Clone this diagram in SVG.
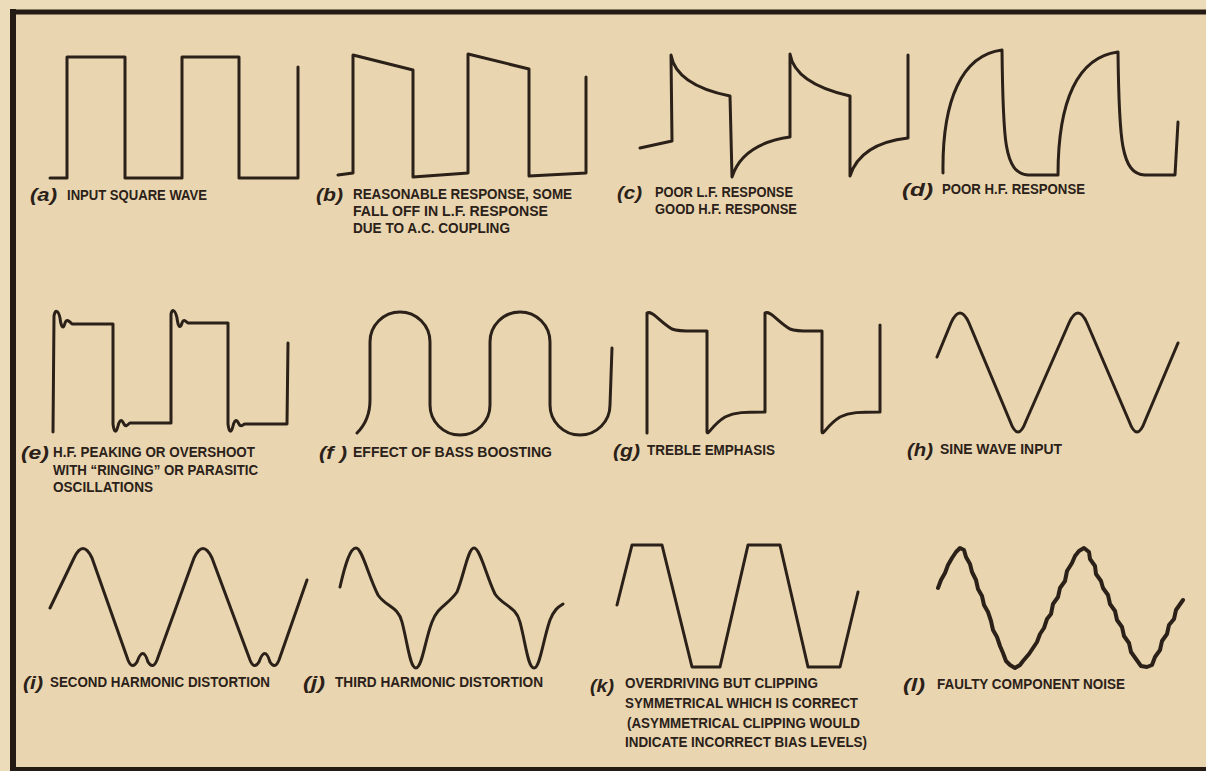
<svg xmlns="http://www.w3.org/2000/svg" width="1206" height="771" viewBox="0 0 1206 771">
<style>
.w{fill:none;stroke:#2b2119;stroke-width:3;stroke-linejoin:round;stroke-linecap:round}
.n{fill:none;stroke:#2b2119;stroke-width:4;stroke-linejoin:round;stroke-linecap:round}
.t{font-family:"Liberation Sans",Arial,sans-serif;font-weight:700;font-size:14.5px;fill:#2b2119}
.m{font-family:"Liberation Sans",Arial,sans-serif;font-weight:700;font-style:italic;font-size:19px;fill:#2b2119}
.b{stroke:#241b14;stroke-linecap:square}
</style>
<rect x="0" y="0" width="1206" height="771" fill="#eddcb9"/>
<rect x="13" y="13" width="1193" height="755" fill="#e9d6b0"/>
<g id="frame">
<line class="b" x1="13" y1="12" x2="1206" y2="12" stroke-width="5"/>
<line class="b" x1="13" y1="12" x2="13" y2="769" stroke-width="6"/>
<line class="b" x1="13" y1="769" x2="1206" y2="769" stroke-width="4"/>
</g>
<g id="panel-a">
<path class="w" d="M50,178 L67,178 L67,57 L125,57 L125,178 L182,178 L182,57 L239,57 L239,178 L298,178 L298,67"/>
<text class="m" x="30" y="201" textLength="27" lengthAdjust="spacingAndGlyphs">(a)</text>
<text class="t" x="67" y="200" textLength="140" lengthAdjust="spacingAndGlyphs">INPUT SQUARE WAVE</text>
</g>
<g id="panel-b">
<path class="w" d="M338,175 L353,173 L353,55 L413,70 L413,177 L468,173 L468,54 L529,69 L529,176 L586,173 L586,77"/>
<text class="m" x="316" y="201" textLength="27" lengthAdjust="spacingAndGlyphs">(b)</text>
<text class="t" x="353" y="199" textLength="219" lengthAdjust="spacingAndGlyphs">REASONABLE RESPONSE, SOME</text>
<text class="t" x="353" y="216" textLength="195" lengthAdjust="spacingAndGlyphs">FALL OFF IN L.F. RESPONSE</text>
<text class="t" x="353" y="233" textLength="157" lengthAdjust="spacingAndGlyphs">DUE TO A.C. COUPLING</text>
</g>
<g id="panel-c">
<path class="w" d="M640,148 L672,141 L671,55 C674,72 690,88 730,96 L732,177 C738,158 755,142 790,137 L790,54 C793,72 810,87 850,96 L850,176 C856,157 873,142 908,138 L908,55"/>
<text class="m" x="617" y="199" textLength="25" lengthAdjust="spacingAndGlyphs">(c)</text>
<text class="t" x="655" y="197" textLength="138" lengthAdjust="spacingAndGlyphs">POOR L.F. RESPONSE</text>
<text class="t" x="655" y="214" textLength="142" lengthAdjust="spacingAndGlyphs">GOOD H.F. RESPONSE</text>
</g>
<g id="panel-d">
<path class="w" d="M943,173 C942,100 962,55 1002,50 C1003,140 1004,173 1028,175 L1058,175 C1058,100 1078,57 1118,52 C1119,140 1121,174 1145,175 L1175,175 L1178,122"/>
<text class="m" x="902" y="196" textLength="31" lengthAdjust="spacingAndGlyphs">(d)</text>
<text class="t" x="942" y="194" textLength="143" lengthAdjust="spacingAndGlyphs">POOR H.F. RESPONSE</text>
</g>
<g id="panel-e">
<path class="w" d="M53,432 L54,316 C55,310 58,309 60,318 C61,326 63,331 65,323 C67,318 70,322 72,324 L113,324 L113,424 C114,432 116,434 118,426 C120,418 122,420 124,424 C126,428 128,424 130,423 L171,423 L171,314 C172,309 175,309 177,318 C178,326 180,330 182,323 C184,318 186,322 188,323 L228,323 L228,424 C229,432 231,434 233,426 C235,418 237,420 239,424 C241,428 243,424 245,424 L287,424 L288,343"/>
<text class="m" x="21" y="459" textLength="28" lengthAdjust="spacingAndGlyphs">(e)</text>
<text class="t" x="53" y="457" textLength="202" lengthAdjust="spacingAndGlyphs">H.F. PEAKING OR OVERSHOOT</text>
<text class="t" x="53" y="475" textLength="205" lengthAdjust="spacingAndGlyphs">WITH “RINGING” OR PARASITIC</text>
<text class="t" x="53" y="492" textLength="100" lengthAdjust="spacingAndGlyphs">OSCILLATIONS</text>
</g>
<g id="panel-f">
<path class="w" d="M357,433 C365,425 370,415 370,400 L370,342 A30,30 0 0 1 430,342 L430,405 A30,30 0 0 0 490,405 L490,342 A30,30 0 0 1 550,342 L550,405 A30,30 0 0 0 610,405 L612,348"/>
<text class="m" x="319" y="459" textLength="28" lengthAdjust="spacingAndGlyphs">(f )</text>
<text class="t" x="353" y="457" textLength="199" lengthAdjust="spacingAndGlyphs">EFFECT OF BASS BOOSTING</text>
</g>
<g id="panel-g">
<path class="w" d="M647,433 L647,313 C652,310 660,322 672,329 C680,332 690,331 707,331 L707,432 C708,436 712,425 725,417 C735,412 745,412 765,412 L765,313 C770,310 778,322 790,329 C798,332 808,331 822,331 L822,432 C823,436 827,425 840,417 C850,412 860,412 880,412 L880,325"/>
<text class="m" x="613" y="457" textLength="27" lengthAdjust="spacingAndGlyphs">(g)</text>
<text class="t" x="647" y="455" textLength="128" lengthAdjust="spacingAndGlyphs">TREBLE EMPHASIS</text>
</g>
<g id="panel-h">
<path class="w" d="M937,357 L951,323 Q960,303 969,323 L1010,421 Q1018,443 1026,421 L1069,323 Q1078,303 1087,323 L1129,421 Q1137,443 1145,421 L1178,343"/>
<text class="m" x="907" y="456" textLength="26" lengthAdjust="spacingAndGlyphs">(h)</text>
<text class="t" x="940" y="454" textLength="122" lengthAdjust="spacingAndGlyphs">SINE WAVE INPUT</text>
</g>
<g id="panel-i">
<path class="w" d="M50,608 L74,558 Q83,539 92,558 L128,660 Q132,670 137,662 Q143,645 148,662 Q153,670 157,660 L194,558 Q203,539 212,558 L250,660 Q254,670 259,662 Q265,645 270,662 Q275,670 279,660 L307,580"/>
<text class="m" x="23" y="689" textLength="20" lengthAdjust="spacingAndGlyphs">(i)</text>
<text class="t" x="50" y="687" textLength="220" lengthAdjust="spacingAndGlyphs">SECOND HARMONIC DISTORTION</text>
</g>
<g id="panel-j">
<path class="w" d="M340,587 C345,565 350,548 356,548 C362,548 368,575 378,595 C386,607 398,606 402,622 C408,645 410,668 416,668 C422,668 425,640 432,622 C438,606 448,605 457,592 C464,575 468,548 474,548 C480,548 486,575 495,594 C503,606 516,606 520,622 C526,645 528,668 534,668 C540,668 543,640 550,620 C554,610 558,607 563,604"/>
<text class="m" x="303" y="689" textLength="22" lengthAdjust="spacingAndGlyphs">(j)</text>
<text class="t" x="335" y="687" textLength="208" lengthAdjust="spacingAndGlyphs">THIRD HARMONIC DISTORTION</text>
</g>
<g id="panel-k">
<path class="w" d="M617,605 L632,545 L662,545 L692,667 L720,667 L748,545 L780,545 L808,667 L840,667 L858,592"/>
<text class="m" x="590" y="692" textLength="24" lengthAdjust="spacingAndGlyphs">(k)</text>
<text class="t" x="625" y="688" textLength="193" lengthAdjust="spacingAndGlyphs">OVERDRIVING BUT CLIPPING</text>
<text class="t" x="625" y="708" textLength="233" lengthAdjust="spacingAndGlyphs">SYMMETRICAL WHICH IS CORRECT</text>
<text class="t" x="627" y="728" textLength="233" lengthAdjust="spacingAndGlyphs">(ASYMMETRICAL CLIPPING WOULD</text>
<text class="t" x="625" y="747" textLength="242" lengthAdjust="spacingAndGlyphs">INDICATE INCORRECT BIAS LEVELS)</text>
</g>
<g id="panel-l">
<path class="n" d="M938,588 L941,580 L945,573 L948,565 L952,558 L956,552 L960,548 L964,550 L966,557 L970,564 L972,572 L976,580 L978,589 L982,596 L984,605 L988,612 L991,621 L993,630 L997,637 L1000,646 L1003,653 L1006,661 L1010,665 L1015,668 L1020,665 L1023,661 L1029,654 L1033,648 L1037,642 L1040,634 L1044,628 L1047,619 L1051,614 L1053,604 L1058,597 L1060,588 L1065,581 L1067,571 L1072,563 L1075,556 L1079,551 L1084,548 L1089,552 L1090,559 L1095,566 L1096,574 L1101,581 L1103,588 L1108,595 L1110,604 L1115,611 L1117,620 L1122,627 L1124,636 L1129,643 L1131,652 L1136,659 L1141,666 L1147,667 L1152,665 L1155,657 L1160,650 L1162,641 L1167,634 L1169,625 L1174,619 L1176,610 L1183,600"/>
<text class="m" x="903" y="691" textLength="22" lengthAdjust="spacingAndGlyphs">(l)</text>
<text class="t" x="937" y="689" textLength="188" lengthAdjust="spacingAndGlyphs">FAULTY COMPONENT NOISE</text>
</g>
</svg>
